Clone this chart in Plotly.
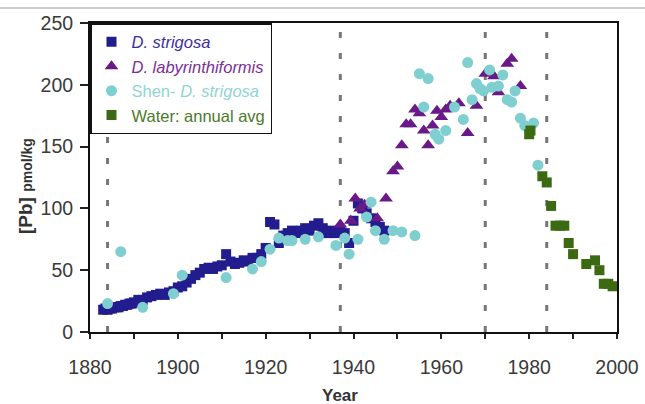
import plotly.graph_objects as go

# ---- data ----
strig_year = [1883, 1883.5, 1884, 1884.5, 1885, 1885.5, 1886, 1886.5, 1887, 1887.5, 1888, 1888.5,
              1889, 1889.5, 1890, 1891, 1892, 1893, 1894, 1895, 1896, 1897, 1898, 1899, 1900,
              1901, 1902, 1903, 1904, 1905, 1906, 1907, 1908, 1909, 1910, 1911, 1912, 1913,
              1914, 1915, 1916, 1917, 1918, 1919, 1920, 1921, 1922, 1923, 1924, 1925, 1926,
              1927, 1928, 1929, 1930, 1931, 1932, 1933, 1934, 1935, 1936, 1937, 1938, 1939,
              1940, 1941, 1942, 1943, 1944, 1945, 1946, 1947]
strig_val = [18, 19, 18, 19, 19, 20, 20, 20, 21, 21, 22, 22,
             23, 23, 24, 26, 26, 28, 29, 30, 31, 30, 32, 33, 36,
             37, 40, 43, 46, 48, 51, 52, 51, 53, 54, 63, 57, 55,
             56, 58, 57, 60, 60, 63, 68, 89, 87, 72, 78, 80, 82,
             80, 82, 84, 82, 86, 88, 84, 80, 82, 80, 82, 80, 72,
             90, 104, 100, 96, 92, 89, 85, 82]

laby_year = [1937, 1939.4, 1940.4, 1941.5, 1942.5, 1945.4, 1947.4, 1949, 1950, 1951, 1952, 1953,
             1954, 1955, 1956, 1957, 1958, 1959, 1960, 1961, 1962, 1964, 1966, 1968, 1970,
             1972, 1973, 1975, 1976, 1978]
laby_val = [87, 90, 108, 100, 103, 92, 108, 130, 134, 151, 168, 168,
            180, 177, 163, 151, 167, 179, 174, 180, 183, 185, 161, 183, 209,
            207, 194, 217, 221, 199]

shen_year = [1884, 1887, 1892, 1899, 1901, 1911, 1917, 1919, 1921, 1923, 1925, 1926, 1929, 1932,
             1936, 1938, 1939, 1941, 1943, 1944, 1945, 1947, 1949, 1951, 1954, 1955, 1956, 1957,
             1958.6, 1959.4, 1961, 1963, 1965, 1966, 1967, 1968, 1968.8, 1969.6, 1971, 1971.5,
             1973, 1974, 1975, 1976, 1976.8, 1978, 1979, 1981, 1982]
shen_val = [23, 65, 20, 31, 46, 44, 51, 57, 67, 76, 74, 74, 75, 77,
            70, 76, 63, 75, 93, 105, 82, 75, 82, 81, 78, 209, 182, 205,
            160, 156, 163, 182, 172, 218, 188, 201, 197, 195, 212, 198,
            199, 208, 188, 186, 195, 173, 167, 169, 135]

water_year = [1980, 1980.3, 1983, 1984, 1985, 1986, 1987, 1988, 1989, 1990, 1993, 1995, 1996,
              1997, 1998, 1999]
water_val = [160, 163, 126, 121, 102, 86, 86, 86, 72, 63, 55, 58, 50, 39, 39, 37]

event_years = [1884, 1937, 1970, 1984]

x_ticks = [1880, 1890, 1900, 1910, 1920, 1930, 1940, 1950, 1960, 1970, 1980, 1990, 2000]
x_tick_text = ["1880", "", "1900", "", "1920", "", "1940", "", "1960", "", "1980", "", "2000"]
y_ticks = [0, 50, 100, 150, 200, 250]

C_STRIG = "#221c8e"
C_LABY = "#6a1a88"
C_SHEN = "#7fcfd0"
C_WATER = "#3b6a12"

fig = go.Figure()
fig.add_trace(go.Scatter(
    x=strig_year, y=strig_val, mode="markers",
    marker=dict(symbol="square", size=10, color=C_STRIG),
    name="<span style='color:#3b2fa0'><i>D. strigosa</i></span>"))
fig.add_trace(go.Scatter(
    x=laby_year, y=laby_val, mode="markers",
    marker=dict(symbol="triangle-up", size=12, color=C_LABY),
    name="<span style='color:#7a2f98'><i>D. labyrinthiformis</i></span>"))
fig.add_trace(go.Scatter(
    x=shen_year, y=shen_val, mode="markers",
    marker=dict(symbol="circle", size=11, color=C_SHEN),
    name="<span style='color:#8fd4d6'>Shen- <i>D. strigosa</i></span>"))
fig.add_trace(go.Scatter(
    x=water_year, y=water_val, mode="markers",
    marker=dict(symbol="square", size=10, color=C_WATER),
    name="<span style='color:#4c7a2c'>Water: annual avg</span>"))

for yr in event_years:
    fig.add_shape(type="line", xref="x", yref="y", x0=yr, x1=yr, y0=0, y1=250,
                  line=dict(color="#777777", width=3, dash="6px,15px"), layer="below")

# light grey rule at top of image
fig.add_shape(type="line", xref="paper", yref="paper",
              x0=-90 / 527, x1=555 / 527, y0=(332 - 8) / 309, y1=(332 - 8) / 309,
              line=dict(color="#cccccc", width=2))

fig.update_layout(
    width=645, height=404,
    margin=dict(l=90, r=28, t=23, b=72, autoexpand=False),
    paper_bgcolor="white", plot_bgcolor="white",
    font=dict(family="Liberation Sans, Arial, sans-serif", color="#3a3a3a"),
    showlegend=True,
    legend=dict(x=0, y=1, xanchor="left", yanchor="top",
                bordercolor="#111111", borderwidth=1.5, bgcolor="white",
                font=dict(size=16.5), tracegroupgap=0, itemwidth=30),
    xaxis=dict(range=[1880, 2000], tickvals=x_ticks, ticktext=x_tick_text,
               automargin=False,
               showgrid=False, zeroline=False, showline=True, linecolor="#111111",
               linewidth=2, mirror=True, ticks="outside", ticklen=5, tickwidth=1.5,
               tickcolor="#222222", ticklabelstandoff=12,
               tickfont=dict(size=19.5, color="#3a3a3a")),
    yaxis=dict(range=[0, 250], tickvals=y_ticks, automargin=False,
               showgrid=False, zeroline=False, showline=True, linecolor="#111111",
               linewidth=2, mirror=True, ticks="outside", ticklen=8, tickwidth=1.5,
               tickcolor="#222222", ticklabelstandoff=3,
               tickfont=dict(size=19.5, color="#3a3a3a")),
    annotations=[
        dict(text="<b>Year</b>", xref="paper", yref="paper",
             x=(340 - 90) / 527, y=-(395 - 332) / 309, xanchor="center", yanchor="middle",
             showarrow=False, font=dict(size=17, color="#333333")),
        dict(text="<b>[Pb]</b> <b><span style='font-size:14px'>pmol/kg</span></b>",
             xref="paper", yref="paper", textangle=-90,
             x=-(90 - 25) / 527, y=(332 - 186) / 309, xanchor="center", yanchor="middle",
             showarrow=False, font=dict(size=19, color="#333333")),
    ],
)

fig.write_html("out.html",
               config={"displayModeBar": False},
               post_script="document.body.style.margin='0';document.body.style.overflow='hidden';")
